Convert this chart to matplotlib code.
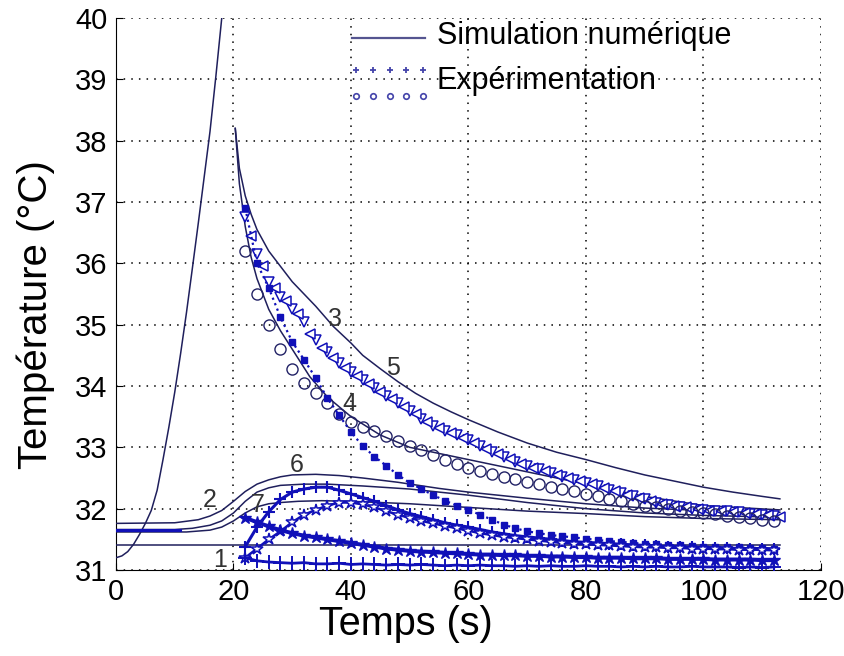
import numpy as np
import matplotlib
matplotlib.use('Agg')
import matplotlib.pyplot as plt

plt.rcParams['font.family'] = ['Liberation Sans', 'DejaVu Sans']

# --- Simulation (numerical) curves ---
x_heat = [0, 1, 2, 3, 4, 5, 6, 7, 8, 9, 10, 11, 12, 13, 14, 15, 16, 17, 18, 18.5]
y_heat = [31.2, 31.23, 31.3, 31.42, 31.58, 31.76, 31.97, 32.3, 32.8, 33.33,
          33.9, 34.53, 35.2, 35.92, 36.65, 37.4, 38.15, 39.05, 40.0, 40.5]

x_sim5 = [20.3, 21, 22, 23, 24, 26, 28, 30, 32, 34, 37, 40, 42, 45, 48, 51, 54, 57,
          60, 65, 70, 75, 80, 85, 90, 95, 100, 105, 110, 113]
y_sim5 = [38.2, 37.55, 37.1, 36.8, 36.55, 36.2, 35.95, 35.7, 35.5, 35.3, 34.97, 34.7,
          34.5, 34.28, 34.07, 33.88, 33.72, 33.58, 33.45, 33.25, 33.07, 32.92, 32.8,
          32.67, 32.55, 32.45, 32.35, 32.27, 32.2, 32.16]

x_sim4 = [20.3, 21, 22, 23, 24, 26, 28, 30, 33, 36, 40, 45, 50, 55, 60, 70, 80, 90, 100, 113]
y_sim4 = [38.2, 37.3, 36.6, 36.1, 35.75, 35.25, 34.9, 34.6, 34.15, 33.82, 33.5, 33.2,
          33.0, 32.9, 32.8, 32.6, 32.4, 32.2, 32.05, 31.98]

x_sim6 = [0, 10, 14, 16, 18, 20, 22, 24, 26, 28, 30, 34, 38, 42, 48, 55, 60, 70, 80, 90, 100, 113]
y_sim6 = [31.76, 31.77, 31.82, 31.88, 31.97, 32.12, 32.28, 32.4, 32.47, 32.52, 32.55,
          32.56, 32.54, 32.5, 32.43, 32.33, 32.27, 32.17, 32.08, 32.01, 31.97, 31.94]

x_sim2 = [0, 10, 13, 16, 18, 20, 22, 24, 26, 28, 32, 36, 42, 50, 60, 70, 80, 90, 100, 113]
y_sim2 = [31.66, 31.66, 31.68, 31.73, 31.8, 31.93, 32.12, 32.27, 32.34, 32.38, 32.4,
          32.4, 32.37, 32.32, 32.22, 32.1, 32.0, 31.93, 31.89, 31.86]

x_sim7 = [0, 12, 16, 18, 20, 22, 24, 26, 28, 31, 35, 40, 50, 60, 70, 80, 90, 100, 113]
y_sim7 = [31.62, 31.62, 31.65, 31.7, 31.8, 31.93, 32.03, 32.08, 32.1, 32.12, 32.13,
          32.12, 32.08, 32.02, 31.96, 31.92, 31.87, 31.84, 31.82]

x_sim1 = [0, 113]
y_sim1 = [31.4, 31.4]

x_init = [0, 10.9]
y_init = [31.65, 31.65]

# --- Experimental measurements ---
t_exp = np.arange(22, 113, 2)
t_exp_b = np.arange(23, 114, 2)

tri_a = [36.75, 36.15, 35.7, 35.45, 35.25, 35.05, 34.75, 34.55, 34.38, 34.23,
         34.1, 33.97, 33.84, 33.72, 33.6, 33.47, 33.35, 33.27, 33.2, 33.12,
         33.02, 32.93, 32.85, 32.76, 32.7, 32.64, 32.58, 32.52, 32.47, 32.42,
         32.37, 32.3, 32.25, 32.2, 32.15, 32.1, 32.06, 32.03, 32.0, 31.98,
         31.97, 31.96, 31.94, 31.92, 31.9, 31.88]
tri_b = [36.45, 35.95, 35.6, 35.38, 35.18, 34.85, 34.62, 34.45, 34.3, 34.17,
         34.04, 33.91, 33.79, 33.66, 33.54, 33.42, 33.31, 33.23, 33.16, 33.07,
         32.98, 32.89, 32.81, 32.73, 32.67, 32.61, 32.55, 32.5, 32.45, 32.4,
         32.34, 32.28, 32.23, 32.18, 32.13, 32.08, 32.05, 32.02, 31.99, 31.97,
         31.96, 31.95, 31.93, 31.91, 31.89, 31.87]
circ = [36.2, 35.5, 35.0, 34.6, 34.27, 34.05, 33.88, 33.72, 33.55, 33.42,
        33.33, 33.26, 33.19, 33.1, 33.02, 32.95, 32.88, 32.8, 32.73, 32.66,
        32.62, 32.57, 32.52, 32.48, 32.44, 32.4, 32.36, 32.32, 32.28, 32.24,
        32.2, 32.16, 32.12, 32.08, 32.05, 32.02, 32.0, 31.97, 31.95, 31.93,
        31.91, 31.88, 31.86, 31.84, 31.82, 31.8]
sq = [36.9, 36.0, 35.6, 35.12, 34.72, 34.43, 34.13, 33.8, 33.52, 33.25,
      33.02, 32.85, 32.7, 32.55, 32.42, 32.32, 32.22, 32.13, 32.05, 31.98,
      31.9, 31.82, 31.74, 31.68, 31.63, 31.6, 31.57, 31.55, 31.53, 31.51,
      31.49, 31.47, 31.46, 31.44, 31.43, 31.42, 31.41, 31.4, 31.39, 31.38,
      31.38, 31.37, 31.37, 31.36, 31.36, 31.35]
rise_a = [31.38, 31.7, 31.95, 32.15, 32.27, 32.32, 32.35, 32.35, 32.3, 32.24,
          32.18, 32.12, 32.05, 31.98, 31.92, 31.87, 31.82, 31.77, 31.73, 31.7,
          31.66, 31.62, 31.59, 31.56, 31.54, 31.52, 31.5, 31.48, 31.46, 31.45,
          31.44, 31.43, 31.42, 31.41, 31.4, 31.39, 31.38, 31.38, 31.37, 31.37,
          31.36, 31.36, 31.35, 31.35, 31.35, 31.34]
rise_b = [31.2, 31.35, 31.5, 31.63, 31.78, 31.9, 31.98, 32.05, 32.1, 32.1,
          32.07, 32.02, 31.96, 31.9, 31.85, 31.8, 31.76, 31.72, 31.68, 31.64,
          31.6, 31.57, 31.54, 31.52, 31.5, 31.48, 31.46, 31.44, 31.43, 31.42,
          31.41, 31.4, 31.39, 31.38, 31.37, 31.37, 31.36, 31.36, 31.35, 31.35,
          31.34, 31.34, 31.33, 31.33, 31.33, 31.32]
fall7 = [31.85, 31.78, 31.71, 31.65, 31.6, 31.56, 31.53, 31.5, 31.47, 31.44,
         31.41, 31.38, 31.35, 31.33, 31.31, 31.3, 31.29, 31.28, 31.27, 31.26,
         31.25, 31.25, 31.24, 31.24, 31.23, 31.23, 31.22, 31.22, 31.21, 31.21,
         31.2, 31.2, 31.2, 31.19, 31.19, 31.19, 31.18, 31.18, 31.18, 31.18,
         31.17, 31.17, 31.17, 31.17, 31.16, 31.16]
flat1 = [31.2, 31.15, 31.13, 31.12, 31.11, 31.12, 31.1, 31.1, 31.11, 31.09,
         31.1, 31.09, 31.08, 31.09, 31.08, 31.09, 31.08, 31.07, 31.08, 31.07,
         31.08, 31.07, 31.07, 31.06, 31.07, 31.06, 31.07, 31.06, 31.06, 31.07,
         31.06, 31.06, 31.05, 31.06, 31.05, 31.06, 31.05, 31.05, 31.06, 31.05,
         31.05, 31.05, 31.04, 31.05, 31.04, 31.05]

# curve numbers and where they sit
lab_text = ['1', '2', '3', '4', '5', '6', '7']
lab_x = [17.7, 16.0, 37.3, 39.8, 47.2, 30.8, 24.2]
lab_y = [31.16, 32.14, 35.1, 33.7, 34.3, 32.72, 32.06]

sim_col = '#1f1f5c'
exp_col = '#1010b8'

fig = plt.figure(figsize=(8.45, 6.56), dpi=100)
ax = fig.add_axes([116 / 845, 86 / 656, 705 / 845, 552 / 656])

# --- simulation lines ---
for xs, ys in [(x_heat, y_heat), (x_sim5, y_sim5), (x_sim4, y_sim4), (x_sim6, y_sim6),
               (x_sim2, y_sim2), (x_sim7, y_sim7), (x_sim1, y_sim1)]:
    ax.plot(xs, ys, color=sim_col, lw=1.1, zorder=3)
ax.plot(x_init, y_init, color=exp_col, lw=2.2, zorder=3)

# --- experimental markers ---
ax.plot(t_exp, tri_a, ls='none', marker='v', ms=7.5, mfc='white', mec=exp_col, mew=1.1, zorder=4)
ax.plot(t_exp_b, tri_b, ls='none', marker='<', ms=7.5, mfc='white', mec=exp_col, mew=1.1, zorder=4)
ax.plot(t_exp, circ, ls='none', marker='o', ms=8, mfc='none', mec='#222266', mew=1.0, zorder=4)
ax.plot(t_exp, sq, color=exp_col, lw=1.6, ls=':', marker='s', ms=4.5, mfc=exp_col, mec=exp_col, zorder=4)
ax.plot(t_exp, rise_a, color=exp_col, lw=2.2, marker='+', ms=9, mew=1.5, zorder=4)
ax.plot(t_exp, rise_b, color=exp_col, lw=1.8, marker='*', ms=9, mfc='white', mec=exp_col, mew=1.1, zorder=4)
ax.plot(t_exp, fall7, color=exp_col, lw=2.8, marker='*', ms=9, mfc=exp_col, mec=exp_col, zorder=4)
ax.plot(t_exp, flat1, color=exp_col, lw=2.0, marker='+', ms=10, mew=1.4, zorder=4)

for s, xx, yy in zip(lab_text, lab_x, lab_y):
    ax.text(xx, yy, s, fontsize=18, color='#333333', ha='center', va='center', zorder=5)

# --- axes ---
ax.set_xlim(0, 120)
ax.set_ylim(31, 40)
ax.set_xticks([0, 20, 40, 60, 80, 100, 120])
ax.set_yticks(range(31, 41))
ax.tick_params(direction='in', length=5, labelsize=21, pad=6)
ax.grid(True, color='black', linestyle=(0, (1, 4)), lw=1.1)
ax.spines['top'].set_visible(False)
ax.spines['right'].set_visible(False)
ax.set_xlabel('Temps (s)', fontsize=28.5)
ax.set_ylabel('Température (°C)', fontsize=29)
ax.xaxis.set_label_coords(0.411, -0.064)
ax.yaxis.set_label_coords(-0.086, 0.462)

# --- legend (drawn by hand, like the original) ---
tr = ax.transAxes
ax.plot([0.335, 0.438], [0.964, 0.964], color='#555590', lw=1.6, transform=tr, clip_on=False)
ax.text(0.455, 0.967, 'Simulation numérique', fontsize=22, va='center', ha='left', transform=tr)
lx = [0.340, 0.364, 0.388, 0.412, 0.436]
ax.plot(lx, [0.905] * 5, ls='none', marker='+', ms=5, mew=1.3, color='#4444aa', transform=tr, clip_on=False)
ax.plot(lx, [0.858] * 5, ls='none', marker='o', ms=4, mfc='none', mew=1.2, mec='#4444aa', transform=tr, clip_on=False)
ax.text(0.455, 0.885, 'Expérimentation', fontsize=22, va='center', ha='left', transform=tr)

fig.savefig('out.png', dpi=100)
